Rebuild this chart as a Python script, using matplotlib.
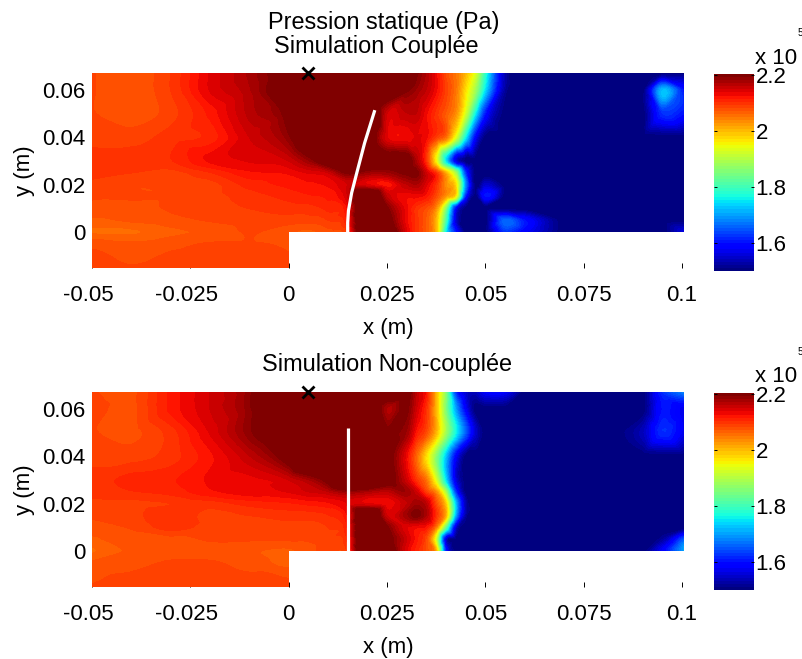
import numpy as np
import matplotlib
matplotlib.use("Agg")
import matplotlib.pyplot as plt
from matplotlib.path import Path
from matplotlib.cm import ScalarMappable
from matplotlib.colors import Normalize
from matplotlib.tri import Triangulation, UniformTriRefiner, CubicTriInterpolator
from matplotlib.transforms import ScaledTranslation

plt.rcParams['font.family'] = ['Liberation Sans', 'DejaVu Sans']

x_nodes = [-0.05,-0.04,-0.03,-0.02,-0.01,0,0.005,0.01,0.015,0.02,0.025,0.03,
           0.0325,0.035,0.0375,0.04,0.0425,0.045,0.0475,0.05,
           0.055,0.06,0.07,0.08,0.09,0.095,0.1005]
y_nodes = [0.0672,0.06,0.05,0.04,0.03,0.025,0.02,0.015,0.01,0.005,0,-0.005,-0.0152]

# static pressure, x 1e5 Pa; rows follow y_nodes
p_coupled = [
 [2.085,2.075,2.095,2.14,2.175,2.23,2.30,2.30,2.30,2.30,2.30,2.25, 2.20,2.17,2.13,2.08,2.05,2.00,1.93,1.78, 1.53,1.50,1.50,1.50,1.50,1.50,1.50],
 [2.085,2.075,2.095,2.14,2.17,2.24,2.30,2.30,2.30,2.30,2.25,2.20, 2.18,2.16,2.13,2.09,2.05,1.97,1.88,1.74, 1.52,1.50,1.50,1.50,1.50,1.72,1.60],
 [2.085,2.075,2.09,2.12,2.165,2.21,2.30,2.30,2.30,2.30,2.15,2.16, 2.16,2.13,2.10,2.07,2.03,1.92,1.75,1.60, 1.50,1.50,1.50,1.50,1.50,1.62,1.60],
 [2.09,2.09,2.10,2.11,2.15,2.19,2.25,2.30,2.30,2.24,2.14,2.13, 2.14,2.13,2.09,2.05,1.93,1.75,1.58,1.50, 1.50,1.50,1.50,1.50,1.50,1.50,1.50],
 [2.10,2.10,2.105,2.13,2.14,2.15,2.18,2.23,2.28,2.26,2.22,2.22, 2.17,2.10,1.95,1.74,1.56,1.50,1.50,1.50, 1.50,1.50,1.50,1.50,1.50,1.50,1.50],
 [2.10,2.095,2.09,2.105,2.125,2.13,2.14,2.15,2.20,2.18,2.18,2.20, 2.20,2.15,2.10,2.00,1.88,1.62,1.50,1.50, 1.50,1.50,1.50,1.50,1.50,1.50,1.50],
 [2.09,2.085,2.085,2.09,2.11,2.12,2.125,2.13,2.15,2.14,2.12,2.16, 2.17,2.14,2.10,2.03,1.97,1.68,1.50,1.55, 1.50,1.50,1.50,1.50,1.50,1.50,1.50],
 [2.085,2.085,2.085,2.09,2.10,2.11,2.115,2.12,2.15,2.28,2.16,2.13, 2.13,2.12,2.08,2.02,1.95,1.60,1.50,1.60, 1.50,1.50,1.50,1.50,1.50,1.50,1.50],
 [2.08,2.08,2.085,2.09,2.095,2.10,2.10,2.11,2.13,2.30,2.20,2.13, 2.10,2.08,2.03,1.85,1.58,1.50,1.50,1.50, 1.50,1.50,1.50,1.50,1.50,1.50,1.50],
 [2.07,2.075,2.08,2.085,2.09,2.09,2.09,2.095,2.12,2.30,2.22,2.13, 2.10,2.07,2.00,1.80,1.55,1.50,1.50,1.50, 1.66,1.60,1.50,1.50,1.50,1.50,1.50],
 [2.06,2.06,2.07,2.075,2.085,2.075,2.07,2.08,2.10,2.30,2.25,2.14, 2.10,2.07,2.00,1.75,1.60,1.50,1.50,1.50, 1.62,1.58,1.50,1.50,1.50,1.50,1.56],
 [2.08,2.075,2.08,2.085,2.085,2.08,2.07,2.08,2.10,2.30,2.25,2.14, 2.10,2.07,2.00,1.75,1.60,1.50,1.50,1.50, 1.50,1.50,1.50,1.50,1.50,1.50,1.50],
 [2.09,2.085,2.09,2.09,2.09,2.09,2.07,2.08,2.10,2.30,2.25,2.14, 2.10,2.07,2.00,1.75,1.60,1.50,1.50,1.50, 1.50,1.50,1.50,1.50,1.50,1.50,1.50],
]
p_uncoupled = [
 [2.085,2.08,2.12,2.15,2.19,2.30,2.30,2.30,2.30,2.30,2.25,2.22, 2.16,2.12,2.00,1.85,1.62,1.55,1.54,1.58, 1.58,1.50,1.50,1.50,1.50,1.62,1.68],
 [2.09,2.08,2.12,2.15,2.19,2.30,2.30,2.30,2.30,2.28,2.17,2.20, 2.15,2.10,2.00,1.85,1.70,1.58,1.50,1.50, 1.50,1.50,1.50,1.50,1.50,1.60,1.57],
 [2.085,2.08,2.10,2.14,2.19,2.25,2.30,2.30,2.30,2.25,2.20,2.18, 2.12,2.08,2.00,1.88,1.76,1.65,1.55,1.50, 1.50,1.50,1.50,1.50,1.54,1.62,1.57],
 [2.09,2.09,2.10,2.125,2.16,2.22,2.30,2.30,2.30,2.30,2.22,2.13, 2.06,1.97,1.86,1.72,1.58,1.50,1.50,1.50, 1.50,1.50,1.50,1.50,1.50,1.50,1.50],
 [2.10,2.11,2.115,2.13,2.135,2.15,2.17,2.21,2.30,2.30,2.22,2.15, 2.10,2.05,1.93,1.74,1.56,1.50,1.50,1.50, 1.50,1.50,1.50,1.50,1.50,1.50,1.50],
 [2.10,2.105,2.11,2.125,2.135,2.14,2.15,2.16,2.18,2.17,2.16,2.18, 2.15,2.09,2.03,1.88,1.62,1.50,1.50,1.50, 1.50,1.50,1.50,1.50,1.50,1.50,1.50],
 [2.09,2.09,2.095,2.10,2.11,2.115,2.12,2.125,2.14,2.14,2.13,2.16, 2.18,2.16,2.08,1.98,1.72,1.53,1.50,1.50, 1.50,1.50,1.50,1.50,1.50,1.50,1.50],
 [2.085,2.09,2.105,2.09,2.095,2.10,2.10,2.105,2.13,2.28,2.15,2.18, 2.20,2.17,2.10,2.00,1.70,1.52,1.50,1.50, 1.50,1.50,1.50,1.50,1.50,1.50,1.50],
 [2.08,2.085,2.10,2.09,2.085,2.09,2.09,2.095,2.12,2.30,2.20,2.14, 2.13,2.12,2.04,1.82,1.55,1.50,1.50,1.50, 1.50,1.50,1.50,1.50,1.50,1.50,1.50],
 [2.07,2.08,2.08,2.085,2.085,2.085,2.085,2.09,2.11,2.30,2.22,2.15, 2.12,2.08,1.92,1.55,1.50,1.50,1.50,1.50, 1.50,1.50,1.50,1.50,1.50,1.52,1.65],
 [2.06,2.075,2.08,2.08,2.075,2.07,2.08,2.09,2.10,2.30,2.24,2.14, 2.11,2.08,2.00,1.60,1.50,1.50,1.50,1.50, 1.50,1.50,1.50,1.50,1.50,1.58,1.70],
 [2.075,2.08,2.085,2.085,2.08,2.07,2.08,2.09,2.10,2.30,2.24,2.14, 2.11,2.08,2.00,1.60,1.50,1.50,1.50,1.50, 1.50,1.50,1.50,1.50,1.50,1.50,1.50],
 [2.085,2.09,2.09,2.09,2.09,2.09,2.08,2.09,2.10,2.30,2.24,2.14, 2.11,2.08,2.00,1.60,1.50,1.50,1.50,1.50, 1.50,1.50,1.50,1.50,1.50,1.50,1.50],
]
blade_x_coupled = [0.0219,0.0193,0.0173,0.0160,0.0152,0.0150,0.0150]
blade_y_coupled = [0.0515,0.0376,0.0249,0.0165,0.0090,0.0040,0.0]
blade_x_uncoupled = [0.015,0.015]
blade_y_uncoupled = [0.052,0.0]
probe_x = [0.0048]
probe_y = [0.0672]
xtick_vals = [-0.05,-0.025,0,0.025,0.05,0.075,0.1]
xtick_labels = ['-0.05','-0.025','0','0.025','0.05','0.075','0.1']
ytick_vals = [0,0.02,0.04,0.06]
ytick_labels = ['0','0.02','0.04','0.06']
cbar_ticks = [1.6,1.8,2.0,2.2]
cbar_labels = ['1.6','1.8','2','2.2']

W, H = 802, 659
FS = 16
TS = 16.9
fig = plt.figure(figsize=(W/100, H/100), dpi=100)

def rect(x0, y0, x1, y1):
    return [x0/W, 1-y1/H, (x1-x0)/W, (y1-y0)/H]

cmap = plt.get_cmap('jet', 64)
VMIN, VMAX = 1.5, 2.205
levels = np.linspace(VMIN, VMAX, 65)
XL = (-0.05, 0.1005)
YL = (-0.0152, 0.0672)
outline = Path([(XL[0],YL[0]),(0,YL[0]),(0,0),(XL[1],0),(XL[1],YL[1]),(XL[0],YL[1]),(XL[0],YL[0])])
gx, gy = np.meshgrid(x_nodes, y_nodes)
triang = Triangulation(gx.ravel(), gy.ravel())
refiner = UniformTriRefiner(triang)

def panel(top, field, bx, by):
    ax = fig.add_axes(rect(92, top, 684, top+195))
    z = np.array(field).ravel()
    tr, zr = refiner.refine_field(z, triinterpolator=CubicTriInterpolator(triang, z, kind='geom'), subdiv=3)
    cs = ax.tricontourf(tr, zr, levels=levels, cmap=cmap, vmin=VMIN, vmax=VMAX,
                        extend='both', antialiased=False, zorder=2)
    cs.set_clip_path(outline, transform=ax.transData)
    ax.plot(bx, by, color='white', lw=2.3, zorder=3, solid_capstyle='butt')
    ax.plot(probe_x, probe_y, marker='x', color='black', ms=8, mew=2, ls='none',
            clip_on=False, zorder=4)
    ax.set_xlim(*XL); ax.set_ylim(*YL)
    for s in ax.spines.values():
        s.set_visible(False)
    ax.set_axisbelow(True)
    ax.set_xticks(xtick_vals, xtick_labels, fontsize=FS)
    ax.set_yticks(ytick_vals, ytick_labels, fontsize=FS)
    ax.tick_params(axis='x', direction='in', length=3.5, width=0.7, pad=12)
    ax.tick_params(axis='y', length=0, pad=5)
    for lab in ax.get_xticklabels()[:2]:
        lab.set_transform(lab.get_transform() + ScaledTranslation(-4/100, 0, fig.dpi_scale_trans))
    ax.set_xlabel('x (m)', fontsize=FS, labelpad=9)
    ax.set_ylabel('y (m)', fontsize=FS, labelpad=5)
    # colour bar
    cax = fig.add_axes(rect(714, top+1, 754, top+198))
    sm = ScalarMappable(Normalize(VMIN, VMAX), cmap)
    cb = fig.colorbar(sm, cax=cax)
    cb.outline.set_visible(False)
    cb.set_ticks(cbar_ticks, labels=cbar_labels, fontsize=FS)
    cax.tick_params(direction='in', length=2, width=0.7, pad=1, left=True, right=True)
    fig.text(755/W, 1-(top-15)/H, 'x 10', fontsize=FS, ha='left', va='center')
    fig.text(798/W, 1-(top-40)/H, '5', fontsize=7, ha='left', va='center')

panel(73, p_coupled, blade_x_coupled, blade_y_coupled)
panel(392, p_uncoupled, blade_x_uncoupled, blade_y_uncoupled)

fig.text(384/W, 1-23/H, 'Pression statique (Pa)', fontsize=TS, ha='center', va='center')
fig.text(376/W, 1-46/H, 'Simulation Couplée', fontsize=TS, ha='center', va='center')
fig.text(387/W, 1-364/H, 'Simulation Non-couplée', fontsize=TS, ha='center', va='center')

fig.savefig('out.png', dpi=100)
